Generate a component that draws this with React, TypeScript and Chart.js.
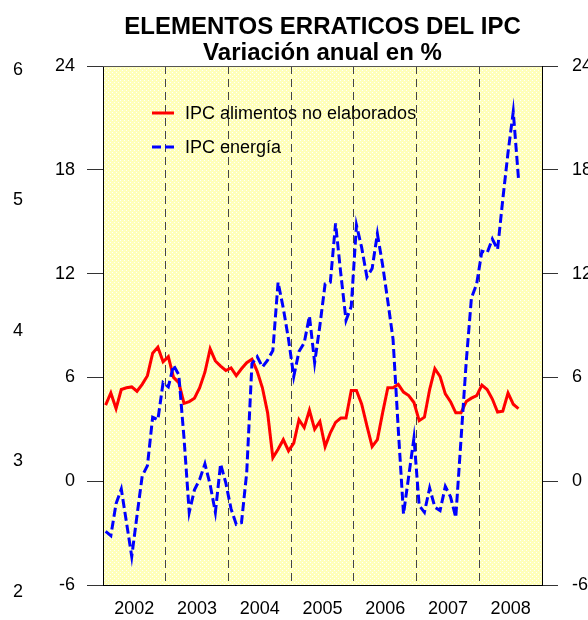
import { useEffect, useRef } from 'react';
import { Chart, registerables } from 'chart.js';

Chart.register(...registerables);

const years = ['2002', '2003', '2004', '2005', '2006', '2007', '2008'];
const monthCodes = ['01', '02', '03', '04', '05', '06', '07', '08', '09', '10', '11', '12'];
const months = years.flatMap((y) => monthCodes.map((m) => `${y}-${m}`)).slice(0, 80);

const alimentos = [
  4.4, 5.1, 4.2, 5.3, 5.4, 5.45, 5.2, 5.6, 6.1, 7.4,
  7.75, 6.9, 7.2, 6.0, 5.7, 4.5, 4.6, 4.8, 5.4, 6.3,
  7.65, 6.95, 6.65, 6.4, 6.55, 6.1, 6.5, 6.85, 7.05, 6.35,
  5.4, 3.95, 1.35, 1.85, 2.4, 1.75, 2.2, 3.55, 3.1, 4.1,
  3.0, 3.45, 2.0, 2.8, 3.4, 3.65, 3.65, 5.25, 5.25, 4.45,
  3.2, 2.0, 2.4, 3.95, 5.4, 5.4, 5.6, 5.15, 4.95, 4.55,
  3.5, 3.7, 5.3, 6.5, 6.05, 5.05, 4.6, 3.95, 3.95, 4.6,
  4.8, 4.95, 5.55, 5.3, 4.75, 4.0, 4.05, 5.1, 4.45, 4.2,
];

const energia = [
  -2.9, -3.15, -1.3, -0.45, -2.4, -4.35, -2.0, 0.3, 0.9, 3.7,
  3.55, 5.7, 5.45, 6.7, 6.15, 2.5, -1.8, -0.5, 0.1, 1.0,
  -0.2, -1.8, 1.0, -0.1, -1.6, -2.5, -2.4, 0.5, 6.8, 7.2,
  6.6, 7.0, 7.55, 11.5, 10.0, 8.2, 6.05, 7.5, 8.0, 9.55,
  6.85, 9.0, 11.4, 11.5, 14.9, 12.0, 9.3, 10.1, 14.8, 13.5,
  11.8, 12.3, 14.3, 12.5, 10.4, 8.2, 3.0, -1.9, 0.3, 2.5,
  -1.4, -1.8, -0.4, -1.5, -1.7, -0.3, -0.9, -2.1, 2.4, 6.9,
  10.6, 11.4, 13.3, 13.2, 14.0, 13.4, 16.3, 19.0, 21.35, 17.5,
];

const leftTicks = [2, 3, 4, 5, 6];
const titleLines = ['ELEMENTOS ERRATICOS DEL IPC', 'Variación anual en %'];
const FONT = '"Liberation Sans", Arial, Helvetica, sans-serif';

export default function App() {
  const ref = useRef<HTMLCanvasElement>(null);

  useEffect(() => {
    const canvas = ref.current;
    if (!canvas) return;
    const ctx0 = canvas.getContext('2d')!;
    const pc = document.createElement('canvas');
    pc.width = 4;
    pc.height = 4;
    const p = pc.getContext('2d')!;
    p.fillStyle = '#FFFFBA';
    p.fillRect(0, 0, 4, 4);
    p.fillStyle = '#FFFFFF';
    p.fillRect(0, 0, 1, 1);
    p.fillRect(2, 2, 1, 1);
    const pattern = ctx0.createPattern(pc, 'repeat');

    const bgPlugin = {
      id: 'bgPattern',
      beforeDraw(chart: any) {
        const { ctx, chartArea: a } = chart;
        ctx.save();
        ctx.fillStyle = pattern;
        ctx.fillRect(a.left, a.top, a.right - a.left, a.bottom - a.top);
        ctx.restore();
      },
      afterDraw(chart: any) {
        const { ctx, chartArea: a } = chart;
        ctx.save();
        ctx.strokeStyle = '#555';
        ctx.lineWidth = 1;
        ctx.beginPath();
        ctx.moveTo(a.left, a.top + 0.5);
        ctx.lineTo(a.right, a.top + 0.5);
        ctx.stroke();
        ctx.restore();
      },
    };

    const legendPlugin = {
      id: 'insideLegend',
      afterDatasetsDraw(chart: any) {
        const { ctx, chartArea: a } = chart;
        ctx.save();
        chart.data.datasets.forEach((ds: any, i: number) => {
          const y = a.top + 47 + i * 34;
          ctx.beginPath();
          ctx.strokeStyle = ds.borderColor;
          ctx.lineWidth = 3;
          ctx.setLineDash(ds.borderDash || []);
          ctx.moveTo(a.left + 49, y);
          ctx.lineTo(a.left + 71, y);
          ctx.stroke();
          ctx.setLineDash([]);
          ctx.fillStyle = '#000';
          ctx.font = `18px ${FONT}`;
          ctx.textBaseline = 'middle';
          ctx.textAlign = 'left';
          ctx.fillText(ds.label, a.left + 82, y + 1);
        });
        ctx.restore();
      },
    };

    const chart = new Chart(canvas, {
      type: 'line',
      data: {
        datasets: [
          {
            label: 'IPC alimentos no elaborados',
            data: alimentos.map((v, i) => ({ x: months.indexOf(months[i]) + 0.5, y: v })),
            borderColor: '#FF0000',
            borderWidth: 3,
            pointRadius: 0,
            tension: 0,
            order: 1,
          },
          {
            label: 'IPC energía',
            data: energia.map((v, i) => ({ x: months.indexOf(months[i]) + 0.5, y: v })),
            borderColor: '#0000FF',
            borderWidth: 3,
            borderDash: [9, 4],
            pointRadius: 0,
            tension: 0,
            order: 0,
          },
        ],
      },
      options: {
        responsive: false,
        animation: false,
        devicePixelRatio: 1,
        layout: { padding: { left: 13, right: 0, top: 0, bottom: 0 } },
        plugins: {
          legend: { display: false },
          tooltip: { enabled: false },
          title: {
            display: true,
            text: titleLines,
            color: '#000',
            fullSize: false,
            font: { family: FONT, size: 24, weight: 'bold', lineHeight: 26 / 24 },
            padding: { top: 14, bottom: 0 },
          },
        },
        scales: {
          x: {
            type: 'linear',
            min: 0,
            max: years.length * 12,
            afterBuildTicks: (s: any) => {
              const t: any[] = [];
              years.forEach((_, k) => {
                if (k > 0) t.push({ value: k * 12 });
                t.push({ value: k * 12 + 6 });
              });
              s.ticks = t;
            },
            ticks: {
              autoSkip: false,
              maxRotation: 0,
              color: '#000',
              font: { family: FONT, size: 18 },
              padding: 13,
              callback: (v: any) => (v % 12 === 6 ? years[(v - 6) / 12] : ''),
            },
            grid: {
              drawTicks: false,
              lineWidth: 1,
              color: (c: any) => (c.tick && c.tick.value % 12 === 0 ? '#444' : 'rgba(0,0,0,0)'),
            },
            border: { display: true, color: '#000', width: 1, dash: [8, 5] },
            afterFit: (s: any) => {
              s.height = 35;
            },
          },
          y: {
            position: 'left',
            min: -6,
            max: 24,
            weight: 0,
            ticks: { stepSize: 6, color: '#000', font: { family: FONT, size: 18 }, padding: 12 },
            grid: { drawOnChartArea: false, drawTicks: true, tickLength: 16, color: '#333' },
            border: { display: true, color: '#000', width: 1 },
            afterFit: (s: any) => {
              s.width = 48;
            },
          },
          yL: {
            position: 'left',
            min: 2.054,
            max: 6.03,
            weight: 10,
            afterBuildTicks: (s: any) => {
              s.ticks = leftTicks.map((v) => ({ value: v }));
            },
            ticks: { color: '#000', font: { family: FONT, size: 18 }, crossAlign: 'far', padding: 0, autoSkip: false },
            grid: { display: false, drawTicks: false },
            border: { display: false },
            afterFit: (s: any) => {
              s.width = 42;
            },
          },
          yR: {
            position: 'right',
            min: -6,
            max: 24,
            ticks: { stepSize: 6, color: '#000', font: { family: FONT, size: 18 }, padding: 14 },
            grid: { drawOnChartArea: false, drawTicks: true, tickLength: 16, color: '#333' },
            border: { display: true, color: '#000', width: 1 },
            afterFit: (s: any) => {
              s.width = 46;
            },
          },
        },
      } as any,
      plugins: [bgPlugin, legendPlugin],
    });

    return () => chart.destroy();
  }, []);

  return (
    <div style={{ position: 'absolute', left: 0, top: 0, width: 588, height: 620, overflow: 'hidden', background: '#fff' }}>
      <canvas ref={ref} width={588} height={620} style={{ display: 'block', width: 588, height: 620 }} />
    </div>
  );
}
